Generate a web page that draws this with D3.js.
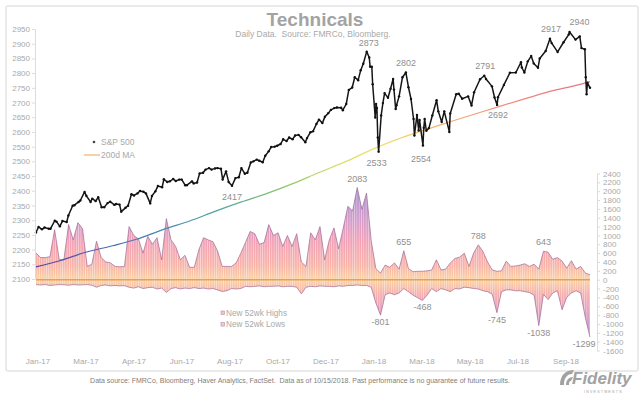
<!DOCTYPE html>
<html><head><meta charset="utf-8">
<script src="https://cdn.jsdelivr.net/npm/d3@7"></script>
<style>
body{margin:0;background:#fff}
svg{display:block}
text{font-family:"Liberation Sans",Arial,Helvetica,sans-serif}
</style>
</head><body>
<svg id="c" width="644" height="394"></svg>
<script>
// ---------- DATA ----------
const spDates = [
"2017-01-03","2017-01-06","2017-01-10","2017-01-13","2017-01-18","2017-01-20","2017-01-25","2017-01-27","2017-01-31","2017-02-03",
"2017-02-08","2017-02-10","2017-02-15","2017-02-17","2017-02-22","2017-02-24","2017-03-01","2017-03-03","2017-03-08","2017-03-10",
"2017-03-14","2017-03-17","2017-03-21","2017-03-24","2017-03-28","2017-03-31","2017-04-05","2017-04-07","2017-04-11","2017-04-13",
"2017-04-18","2017-04-21","2017-04-25","2017-04-28","2017-05-02","2017-05-05","2017-05-09","2017-05-12","2017-05-17","2017-05-19",
"2017-05-23","2017-05-26","2017-05-31","2017-06-02","2017-06-06","2017-06-09","2017-06-13","2017-06-16","2017-06-20","2017-06-23",
"2017-06-27","2017-06-29","2017-07-05","2017-07-07","2017-07-11","2017-07-14","2017-07-18","2017-07-21","2017-07-25","2017-07-28",
"2017-08-01","2017-08-04","2017-08-08","2017-08-10","2017-08-14","2017-08-17","2017-08-21","2017-08-25","2017-08-29","2017-09-01",
"2017-09-05","2017-09-08","2017-09-12","2017-09-15","2017-09-19","2017-09-22","2017-09-26","2017-09-29","2017-10-03","2017-10-06",
"2017-10-10","2017-10-13","2017-10-17","2017-10-20","2017-10-24","2017-10-27","2017-10-31","2017-11-03","2017-11-07","2017-11-10",
"2017-11-15","2017-11-17","2017-11-21","2017-11-24","2017-11-28","2017-12-01","2017-12-05","2017-12-08","2017-12-12","2017-12-15",
"2017-12-19","2017-12-22","2017-12-27","2017-12-29","2018-01-02","2018-01-05","2018-01-09","2018-01-12","2018-01-16","2018-01-19",
"2018-01-22","2018-01-26","2018-01-29","2018-01-30","2018-02-01","2018-02-02","2018-02-05","2018-02-06","2018-02-07","2018-02-08",
"2018-02-09","2018-02-12","2018-02-14","2018-02-16","2018-02-20","2018-02-23","2018-02-26","2018-02-27","2018-03-01","2018-03-02",
"2018-03-05","2018-03-09","2018-03-13","2018-03-16","2018-03-19","2018-03-22","2018-03-23","2018-03-26","2018-03-28","2018-03-29",
"2018-04-02","2018-04-03","2018-04-04","2018-04-06","2018-04-09","2018-04-13","2018-04-18","2018-04-20","2018-04-24","2018-04-27",
"2018-05-03","2018-05-04","2018-05-11","2018-05-14","2018-05-18","2018-05-25","2018-05-29","2018-06-01","2018-06-08","2018-06-13",
"2018-06-15","2018-06-22","2018-06-25","2018-06-28","2018-06-29","2018-07-06","2018-07-13","2018-07-20","2018-07-26","2018-07-27",
"2018-07-30","2018-08-03","2018-08-07","2018-08-10","2018-08-15","2018-08-17","2018-08-24","2018-08-29","2018-08-31","2018-09-07",
"2018-09-14","2018-09-20","2018-09-21","2018-09-28","2018-10-03","2018-10-05","2018-10-09","2018-10-10","2018-10-11","2018-10-12",
"2018-10-15"];
const spValues = [
2258,2277,2269,2275,2271,2271,2298,2295,2279,2297,
2294,2316,2349,2351,2362,2367,2396,2383,2362,2373,
2365,2378,2344,2344,2358,2363,2352,2355,2353,2329,
2342,2349,2388,2384,2391,2399,2397,2391,2357,2382,
2398,2416,2412,2439,2430,2432,2440,2433,2438,2438,
2419,2419,2432,2425,2428,2459,2461,2472,2477,2472,
2476,2477,2475,2438,2466,2430,2417,2443,2446,2477,
2458,2461,2496,2500,2506,2502,2497,2519,2534,2549,
2550,2553,2559,2575,2569,2581,2575,2588,2590,2582,
2565,2579,2599,2602,2627,2642,2630,2652,2664,2675,
2681,2683,2682,2674,2695,2743,2751,2786,2776,2810,
2832,2873,2853,2822,2822,2762,2649,2695,2681,2581,
2533,2656,2698,2732,2716,2747,2780,2744,2678,2691,
2721,2786,2802,2752,2712,2644,2588,2658,2605,2641,
2554,2614,2644,2604,2613,2656,2708,2670,2634,2670,
2600,2663,2728,2730,2713,2721,2690,2735,2779,2791,
2780,2755,2717,2692,2718,2760,2801,2802,2837,2819,
2802,2840,2858,2833,2818,2850,2875,2917,2902,2872,
2905,2931,2940,2914,2925,2885,2881,2786,2728,2767,
2750];

const maDates = ["2017-01-03","2017-02-01","2017-03-01","2017-04-03","2017-05-01","2017-06-01","2017-07-03","2017-08-01",
"2017-09-01","2017-10-02","2017-11-01","2017-12-01","2018-01-02","2018-02-01","2018-03-01","2018-04-02","2018-05-01",
"2018-06-01","2018-07-02","2018-08-01","2018-09-04","2018-10-01","2018-10-15"];
const maValues = [2141,2163,2190,2213,2235,2268,2298,2330,2362,2392,2425,2462,2500,2540,2573,2605,2632,2660,2688,2714,2742,2760,2771];

const hlStart = "2017-01-03", hlEnd = "2018-10-15";
const newHighs = [
605,500,500,520,1130,450,460,1245,900,1290,
1150,300,350,870,500,400,380,300,290,300,
1200,1000,920,600,980,800,950,450,1380,900,
750,450,550,280,280,680,950,900,860,650,
300,300,300,380,600,840,1090,1040,800,840,
1245,1000,1060,750,1000,750,1040,400,300,1060,
900,1200,450,900,1170,700,1170,1660,1550,2083,
1590,1960,880,250,150,330,280,380,240,655,
250,180,190,190,200,220,450,220,240,380,
480,510,600,300,600,788,640,400,220,190,
200,420,300,310,330,360,300,350,240,643,
620,460,500,420,260,430,240,300,150,110];
const newLows = [
-110,-120,-110,-130,-120,-110,-115,-125,-110,-120,
-115,-110,-125,-170,-130,-120,-140,-130,-140,-135,
-170,-190,-160,-200,-180,-170,-210,-190,-290,-200,
-180,-210,-190,-200,-180,-200,-190,-210,-200,-230,
-265,-250,-200,-210,-200,-150,-160,-150,-140,-160,
-150,-150,-140,-160,-150,-150,-170,-320,-170,-150,
-160,-140,-150,-150,-160,-140,-150,-130,-130,-120,
-130,-130,-170,-525,-801,-340,-300,-340,-300,-200,
-270,-350,-410,-468,-350,-200,-270,-200,-230,-270,
-200,-210,-170,-180,-200,-210,-250,-270,-330,-745,
-270,-230,-230,-250,-250,-270,-290,-350,-1038,-330,
-450,-300,-250,-680,-400,-300,-250,-300,-860,-1299];

const xLabels = ["Jan-17","Mar-17","Apr-17","Jun-17","Aug-17","Oct-17","Dec-17","Jan-18","Mar-18","May-18","Jul-18","Sep-18"];
const leftTicks = d3.range(2100, 2951, 50);
const rightTicks = d3.range(-1600, 2401, 200);

const spAnnDates  = ["2018-01-26","2018-03-13","2018-06-13","2018-08-29","2018-09-21","2018-06-28","2018-04-02","2018-02-09","2017-08-21"];
const spAnnValues = [2873,2802,2791,2917,2940,2692,2554,2533,2417];
const spAnnOffsets = [[2,-5.5],[0,-7],[1,-7],[1,-7],[10,-7],[1,13],[-2,17],[-2,14],[0,14]];
const hlAnnValues = [2083,655,788,643,-801,-468,-745,-1038,-1299];

const title = "Technicals";
const subtitle = "Daily Data.  Source: FMRCo, Bloomberg.";
const footer = "Data source: FMRCo, Bloomberg, Haver Analytics, FactSet.  Data as of 10/15/2018. Past performance is no guarantee of future results.";

// ---------- CHART ----------
const svg = d3.select("#c");
const parse = d3.timeParse("%Y-%m-%d");
const x = d3.scaleTime().domain([parse(hlStart), parse(hlEnd)]).range([36, 590]);
const yL = d3.scaleLinear().domain([2100, 2950]).range([279, 29]);
const yR = d3.scaleLinear().domain([-1600, 2400]).range([350.5, 173.5]);
const grey = "#a9a9a9";

const defs = svg.append("defs");
svg.append("rect").attr("x",6).attr("y",6).attr("width",632).attr("height",365)
  .attr("rx",2).attr("fill","none").attr("stroke","#e4e4e4").attr("stroke-width",1.5);

function vgrad(id, stops, y1, y2){
  const g = defs.append("linearGradient").attr("id",id).attr("gradientUnits","userSpaceOnUse")
    .attr("x1",0).attr("x2",0).attr("y1",y1).attr("y2",y2);
  stops.forEach(s=>g.append("stop").attr("offset",s[0]).attr("stop-color",s[1]));
}
vgrad("gHigh", [[0,"#fad2a4"],[0.15,"#f8b4a8"],[0.4,"#f3a2b6"],[0.65,"#d49cca"],[1,"#a293d6"]], yR(0), yR(2083));
vgrad("gLow", [[0,"#fad2a4"],[0.25,"#f6aeae"],[0.55,"#e4a0c0"],[1,"#a698d8"]], yR(0), yR(-1299));
const ma = defs.append("linearGradient").attr("id","gMA").attr("gradientUnits","userSpaceOnUse")
  .attr("x1",36).attr("x2",590).attr("y1",0).attr("y2",0);
[[0,"#55449a"],[0.18,"#4a78b8"],[0.33,"#4fa6a6"],[0.45,"#8cc66a"],[0.55,"#d6e266"],[0.63,"#f2de70"],
 [0.72,"#f6b470"],[0.85,"#f18c7c"],[1,"#e8707e"]].forEach(s=>ma.append("stop").attr("offset",s[0]).attr("stop-color",s[1]));
const pat = defs.append("pattern").attr("id","stripes").attr("patternUnits","userSpaceOnUse")
  .attr("width",2.3).attr("height",20);
pat.append("rect").attr("x",0).attr("y",0).attr("width",0.7).attr("height",20).attr("fill","#fff").attr("opacity",0.5);

// highs / lows
const N = newHighs.length;
const t0 = parse(hlStart).getTime(), t1 = parse(hlEnd).getTime();
const hx = i => x(new Date(t0 + i*(t1-t0)/(N-1)));
const areaH = d3.area().x((d,i)=>hx(i)).y0(yR(0)).y1(d=>yR(d));
const lineH = d3.line().x((d,i)=>hx(i)).y(d=>yR(d));
[[newHighs,"gHigh"],[newLows,"gLow"]].forEach(([arr,g])=>{
  svg.append("path").attr("d",areaH(arr)).attr("fill",`url(#${g})`);
  svg.append("path").attr("d",areaH(arr)).attr("fill","url(#stripes)");
  svg.append("path").attr("d",lineH(arr)).attr("fill","none").attr("stroke","#9c6590")
    .attr("stroke-width",0.9).attr("opacity",0.75);
});
svg.append("line").attr("x1",36).attr("x2",590).attr("y1",yR(0)).attr("y2",yR(0))
  .attr("stroke","#e6a05a").attr("stroke-width",1.6);

// 200d MA
const maLine = d3.line().x((d,i)=>x(parse(maDates[i]))).y(d=>yL(d)).curve(d3.curveMonotoneX);
svg.append("path").attr("d",maLine(maValues)).attr("fill","none").attr("stroke","url(#gMA)").attr("stroke-width",1.2);

// S&P 500
const spLine = d3.line().x((d,i)=>x(parse(spDates[i]))).y(d=>yL(d));
svg.append("path").attr("d",spLine(spValues)).attr("fill","none").attr("stroke","#161616")
  .attr("stroke-width",1.5).attr("stroke-linejoin","round");
svg.append("g").selectAll("circle").data(spValues).join("circle")
  .attr("cx",(d,i)=>x(parse(spDates[i]))).attr("cy",d=>yL(d)).attr("r",1.2).attr("fill","#111");

// axes
const axL = svg.append("g").attr("transform","translate(35,0)")
  .call(d3.axisLeft(yL).tickValues(leftTicks).tickSize(3).tickSizeOuter(0).tickPadding(2).tickFormat(d=>String(d)));
const axR = svg.append("g").attr("transform","translate(597,0)")
  .call(d3.axisRight(yR).tickValues(rightTicks).tickSize(3).tickSizeOuter(0).tickPadding(3).tickFormat(d=>String(d)));
[axL,axR].forEach(a=>{
  a.select(".domain").attr("stroke","#dcdcdc");
  a.selectAll(".tick line").attr("stroke","#dcdcdc");
  a.selectAll("text").attr("fill",grey).attr("font-size",8).attr("font-family","Liberation Sans, Arial, sans-serif");
});

// x labels
const xl = d3.scalePoint().domain(xLabels).range([38, 566]);
svg.append("g").selectAll("text").data(xLabels).join("text")
  .attr("x",d=>xl(d)).attr("y",364).attr("text-anchor","middle").attr("font-size",8).attr("fill",grey).text(d=>d);

// titles
svg.append("text").attr("x",315).attr("y",26).attr("text-anchor","middle").attr("font-size",19)
  .attr("font-weight","bold").attr("fill","#a3a3a3").text(title);
svg.append("text").attr("x",313).attr("y",36.5).attr("text-anchor","middle").attr("font-size",8.5)
  .attr("fill","#a9a9a9").attr("xml:space","preserve").text(subtitle);

// annotations
svg.append("g").selectAll("text").data(spAnnValues).join("text")
  .attr("x",(d,i)=>x(parse(spAnnDates[i]))+spAnnOffsets[i][0])
  .attr("y",(d,i)=>yL(d)+spAnnOffsets[i][1])
  .attr("text-anchor","middle").attr("font-size",9).attr("fill","#8f8f8f").text(d=>d);
svg.append("g").selectAll("text").data(hlAnnValues).join("text")
  .attr("x",d=>{const i=(d>0?newHighs:newLows).indexOf(d); return hx(i) - (d===-1299?6:0);})
  .attr("y",d=>yR(d)+(d>0?-6:10))
  .attr("text-anchor","middle").attr("font-size",9).attr("fill","#8f8f8f").text(d=>d);

// legends
svg.append("circle").attr("cx",94).attr("cy",142).attr("r",1.3).attr("fill","#444");
svg.append("text").attr("x",101).attr("y",145).attr("font-size",8.5).attr("fill",grey).text("S&P 500");
svg.append("line").attr("x1",84).attr("x2",100).attr("y1",155).attr("y2",155).attr("stroke","#f2b070").attr("stroke-width",1.2);
svg.append("text").attr("x",101).attr("y",158).attr("font-size",8.5).attr("fill",grey).text("200d MA");
[["New 52wk Highs",311,"#f6c4c8"],["New 52wk Lows",322.5,"#f0c6d8"]].forEach(([t,yy,f])=>{
  svg.append("rect").attr("x",221).attr("y",yy).attr("width",3.6).attr("height",3.6)
    .attr("fill",f).attr("stroke","#b890b0").attr("stroke-width",0.6);
  svg.append("text").attr("x",226).attr("y",yy+4.5).attr("font-size",8.2).attr("fill",grey).text(t);
});

// footer
svg.append("text").attr("x",300).attr("y",383).attr("text-anchor","middle").attr("font-size",7)
  .attr("fill","#808080").attr("xml:space","preserve").text(footer);

// logo
const lg = svg.append("g").attr("fill","#a2a2a2");
lg.append("path").attr("d","M560,385 C560,375 566,370 574,370 L572,374 C567,374 564,378 564,385 Z M566,385 C566,380 569,377 573,377 L571,381 C569,381 569,383 569,385 Z");
lg.append("text").attr("x",572).attr("y",384).attr("font-size",17).attr("font-weight","bold")
  .attr("font-style","italic").text("Fidelity");
lg.append("text").attr("x",584).attr("y",392.5).attr("font-size",3.6).attr("letter-spacing",1.2).text("INVESTMENTS");
</script>
</body></html>
